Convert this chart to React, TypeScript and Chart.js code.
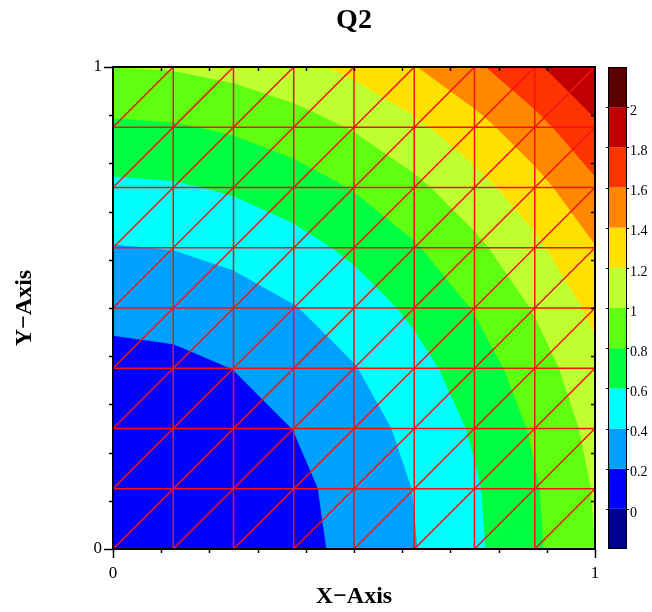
import { useEffect, useRef } from "react";
import { Chart, registerables } from "chart.js";

Chart.register(...registerables);

// Mesh node coordinates (8 x 8 cells, each cell split along its "/" diagonal)
const xNodes = [0, 0.125, 0.25, 0.375, 0.5, 0.625, 0.75, 0.875, 1];
const yNodes = [0, 0.125, 0.25, 0.375, 0.5, 0.625, 0.75, 0.875, 1];

// Q2 at every mesh node; one row per y node, bottom row first
const q2Rows = [
  [0.0, 0.016, 0.063, 0.141, 0.25, 0.391, 0.563, 0.766, 1.0],
  [0.016, 0.031, 0.078, 0.156, 0.266, 0.406, 0.578, 0.781, 1.016],
  [0.063, 0.078, 0.125, 0.203, 0.313, 0.453, 0.625, 0.828, 1.063],
  [0.141, 0.156, 0.203, 0.281, 0.391, 0.531, 0.703, 0.906, 1.141],
  [0.25, 0.266, 0.313, 0.391, 0.5, 0.641, 0.813, 1.016, 1.25],
  [0.391, 0.406, 0.453, 0.531, 0.641, 0.781, 0.953, 1.156, 1.391],
  [0.563, 0.578, 0.625, 0.703, 0.813, 0.953, 1.125, 1.328, 1.563],
  [0.766, 0.781, 0.828, 0.906, 1.016, 1.156, 1.328, 1.531, 1.766],
  [1.0, 1.016, 1.063, 1.141, 1.25, 1.391, 1.563, 1.766, 2.0],
];

// Contour band edges and their fill colours (band k spans levels[k]..levels[k+1])
const levels = [-0.2, 0, 0.2, 0.4, 0.6, 0.8, 1.0, 1.2, 1.4, 1.6, 1.8, 2.0, 2.2];
const bandColors = [
  "#000090",
  "#0000ff",
  "#00a0ff",
  "#00ffff",
  "#00ff40",
  "#60ff10",
  "#c0ff30",
  "#ffe000",
  "#ff8800",
  "#ff3300",
  "#c00000",
  "#5a0000",
];

const axisMajorTicks = [0, 1];
const axisMinorTicks = [0.1, 0.2, 0.3, 0.4, 0.5, 0.6, 0.7, 0.8, 0.9];
const colorbarTicks = [0, 0.2, 0.4, 0.6, 0.8, 1, 1.2, 1.4, 1.6, 1.8, 2];

const SERIF = "'Liberation Serif', 'Times New Roman', Times, serif";
const MESH_RED = "rgb(245, 18, 18)";

type Node = { x: number; y: number; v: number };

function node(i: number, j: number): Node {
  return { x: xNodes[i], y: yNodes[j], v: q2Rows[j][i] };
}

// Mesh triangles built from the node grid
function buildTriangles(): Node[][] {
  const tris: Node[][] = [];
  for (let j = 0; j < yNodes.length - 1; j++) {
    for (let i = 0; i < xNodes.length - 1; i++) {
      tris.push([node(i, j), node(i + 1, j), node(i + 1, j + 1)]);
      tris.push([node(i, j), node(i + 1, j + 1), node(i, j + 1)]);
    }
  }
  return tris;
}

// Part of a polygon where the linearly interpolated value is >= lo
function clipAbove(poly: Node[], lo: number): Node[] {
  const out: Node[] = [];
  for (let k = 0; k < poly.length; k++) {
    const a = poly[k];
    const b = poly[(k + 1) % poly.length];
    const aIn = a.v >= lo;
    const bIn = b.v >= lo;
    if (aIn) out.push(a);
    if (aIn !== bIn) {
      const t = (lo - a.v) / (b.v - a.v);
      out.push({ x: a.x + t * (b.x - a.x), y: a.y + t * (b.y - a.y), v: lo });
    }
  }
  return out;
}

// Red mesh edges: horizontal, vertical and diagonal lines through the nodes
function buildMeshLines(): { x: number; y: number }[][] {
  const n = xNodes.length - 1;
  const lines: { x: number; y: number }[][] = [];
  for (let j = 0; j <= n; j++) {
    lines.push([
      { x: xNodes[0], y: yNodes[j] },
      { x: xNodes[n], y: yNodes[j] },
    ]);
  }
  for (let i = 0; i <= n; i++) {
    lines.push([
      { x: xNodes[i], y: yNodes[0] },
      { x: xNodes[i], y: yNodes[n] },
    ]);
  }
  for (let d = -(n - 1); d <= n - 1; d++) {
    const i0 = Math.max(d, 0);
    const j0 = Math.max(-d, 0);
    const i1 = Math.min(n, n + d);
    const j1 = Math.min(n, n - d);
    lines.push([
      { x: xNodes[i0], y: yNodes[j0] },
      { x: xNodes[i1], y: yNodes[j1] },
    ]);
  }
  return lines;
}

const contourPlugin = {
  id: "q2Contours",
  beforeDatasetsDraw(chart: any) {
    const { ctx, chartArea } = chart;
    const xs = chart.scales.x;
    const ys = chart.scales.y;
    const tris = buildTriangles();
    ctx.save();
    ctx.beginPath();
    ctx.rect(chartArea.left, chartArea.top, chartArea.right - chartArea.left, chartArea.bottom - chartArea.top);
    ctx.clip();
    for (let k = 0; k < bandColors.length; k++) {
      ctx.fillStyle = bandColors[k];
      ctx.beginPath();
      for (const tri of tris) {
        const poly = clipAbove(tri, levels[k]);
        if (poly.length < 3) continue;
        poly.forEach((p, idx) => {
          const px = xs.getPixelForValue(p.x);
          const py = ys.getPixelForValue(p.y);
          if (idx === 0) ctx.moveTo(px, py);
          else ctx.lineTo(px, py);
        });
        ctx.closePath();
      }
      ctx.fill();
    }
    ctx.restore();
  },
  afterDatasetsDraw(chart: any) {
    const { ctx, chartArea } = chart;
    const xs = chart.scales.x;
    const ys = chart.scales.y;
    const { left, right, top, bottom } = chartArea;
    ctx.save();
    ctx.strokeStyle = "#000";
    // minor ticks: outward on bottom/left, inward on top/right
    ctx.lineWidth = 1.5;
    ctx.beginPath();
    for (const v of axisMinorTicks) {
      const px = Math.round(xs.getPixelForValue(v)) + 0.5;
      ctx.moveTo(px, bottom);
      ctx.lineTo(px, bottom + 4);
      ctx.moveTo(px, top);
      ctx.lineTo(px, top + 4);
      const py = Math.round(ys.getPixelForValue(v)) + 0.5;
      ctx.moveTo(left, py);
      ctx.lineTo(left - 4, py);
      ctx.moveTo(right, py);
      ctx.lineTo(right - 4, py);
    }
    ctx.stroke();
    // frame
    ctx.lineWidth = 2;
    ctx.strokeRect(left, top, right - left, bottom - top);
    ctx.restore();
  },
  afterDraw(chart: any) {
    const { ctx } = chart;
    const cb = chart.scales.cb;
    const x0 = cb.left + 13;
    const x1 = cb.left + 32;
    ctx.save();
    for (let k = 0; k < bandColors.length; k++) {
      const yTop = cb.getPixelForValue(levels[k + 1]);
      const yBot = cb.getPixelForValue(levels[k]);
      ctx.fillStyle = bandColors[k];
      ctx.fillRect(x0, yTop, x1 - x0, yBot - yTop);
    }
    ctx.strokeStyle = "#000";
    ctx.lineWidth = 1;
    const yTop = cb.getPixelForValue(levels[levels.length - 1]);
    const yBot = cb.getPixelForValue(levels[0]);
    ctx.strokeRect(x0 + 0.5, yTop + 0.5, x1 - x0 - 1, yBot - yTop - 1);
    ctx.beginPath();
    for (const v of colorbarTicks) {
      const py = Math.round(cb.getPixelForValue(v)) + 0.5;
      ctx.moveTo(x0 - 2, py);
      ctx.lineTo(x0, py);
      ctx.moveTo(x1, py);
      ctx.lineTo(x1 + 2, py);
    }
    ctx.stroke();
    ctx.restore();
  },
};

export default function App() {
  const canvasRef = useRef<HTMLCanvasElement>(null);

  useEffect(() => {
    const canvas = canvasRef.current;
    if (!canvas) return;
    const datasets = buildMeshLines().map((pts) => ({
      type: "scatter" as const,
      data: pts,
      showLine: true,
      borderColor: MESH_RED,
      backgroundColor: MESH_RED,
      borderWidth: 1.5,
      pointRadius: 0,
      pointHoverRadius: 0,
      fill: false,
    }));

    const tickFmt = (v: any) => String(Math.round(Number(v) * 10) / 10);

    const chart = new Chart(canvas, {
      type: "scatter",
      data: { datasets },
      options: {
        animation: false,
        responsive: false,
        devicePixelRatio: 1,
        events: [],
        layout: { padding: 0 },
        plugins: {
          legend: { display: false },
          tooltip: { enabled: false },
          title: {
            display: true,
            text: "Q2",
            color: "#000",
            fullSize: false,
            font: { family: SERIF, size: 28, weight: "bold" },
            padding: { top: 4, bottom: 29.4 },
          },
        },
        scales: {
          x: {
            type: "linear",
            position: "bottom",
            min: 0,
            max: 1,
            afterBuildTicks: (s: any) => {
              s.ticks = axisMajorTicks.map((v) => ({ value: v }));
            },
            afterFit: (s: any) => {
              s.height = 63;
            },
            ticks: {
              autoSkip: false,
              maxRotation: 0,
              color: "#000",
              padding: 5,
              font: { family: SERIF, size: 17 },
              callback: tickFmt,
            },
            grid: {
              drawOnChartArea: false,
              drawTicks: true,
              tickLength: 9,
              tickColor: "#000",
              tickWidth: 1.5,
            },
            border: { display: false },
            title: {
              display: true,
              text: "X\u2212Axis",
              color: "#000",
              font: { family: SERIF, size: 24, weight: "bold" },
              padding: { top: 0, bottom: 1 },
            },
          },
          y: {
            type: "linear",
            position: "left",
            min: 0,
            max: 1,
            afterBuildTicks: (s: any) => {
              s.ticks = axisMajorTicks.map((v) => ({ value: v }));
            },
            afterFit: (s: any) => {
              s.width = 113;
            },
            ticks: {
              autoSkip: false,
              color: "#000",
              padding: 2,
              font: { family: SERIF, size: 17 },
              callback: tickFmt,
            },
            grid: {
              drawOnChartArea: false,
              drawTicks: true,
              tickLength: 9,
              tickColor: "#000",
              tickWidth: 1.5,
            },
            border: { display: false },
            title: {
              display: true,
              text: "Y\u2212Axis",
              color: "#000",
              font: { family: SERIF, size: 24, weight: "bold" },
              padding: { top: 10, bottom: 0 },
            },
          },
          cb: {
            type: "linear",
            position: "right",
            min: levels[0],
            max: levels[levels.length - 1],
            afterBuildTicks: (s: any) => {
              s.ticks = colorbarTicks.map((v) => ({ value: v }));
            },
            afterFit: (s: any) => {
              s.width = 57;
            },
            ticks: {
              autoSkip: false,
              color: "#000",
              padding: 35,
              labelOffset: 4,
              font: { family: SERIF, size: 14 },
              callback: tickFmt,
            },
            grid: { drawOnChartArea: false, drawTicks: false },
            border: { display: false },
          },
        },
      },
      plugins: [contourPlugin],
    } as any);

    return () => chart.destroy();
  }, []);

  return (
    <div style={{ position: "fixed", left: 0, top: 0, width: 652, height: 612, background: "#fff" }}>
      <canvas ref={canvasRef} width={652} height={612} style={{ display: "block" }} />
    </div>
  );
}
